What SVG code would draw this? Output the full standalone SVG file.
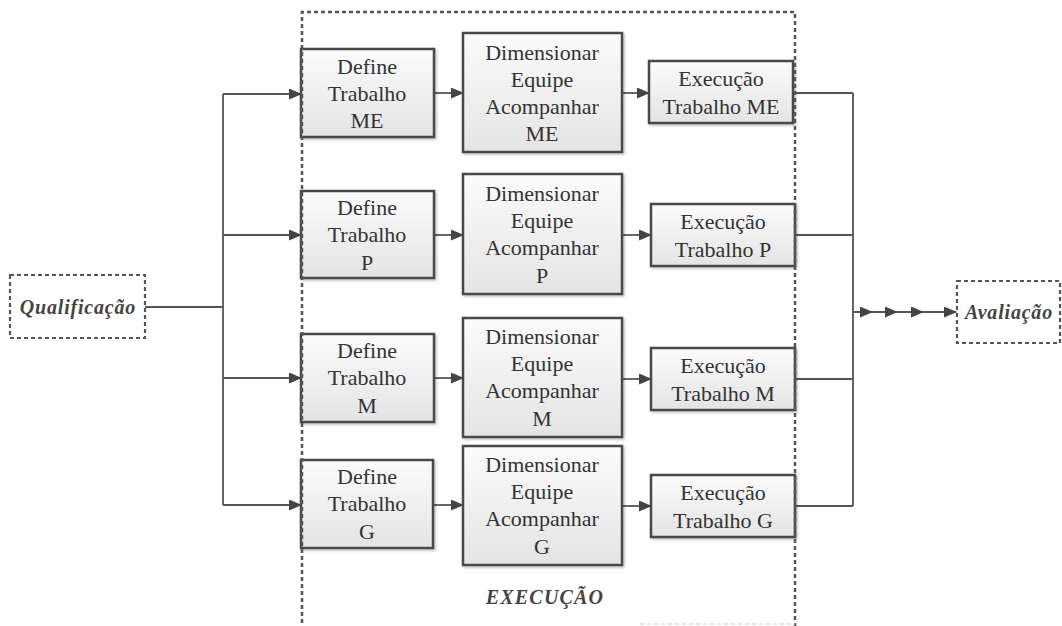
<svg xmlns="http://www.w3.org/2000/svg" width="1062" height="626" viewBox="0 0 1062 626">
<defs>
<linearGradient id="g" x1="0" y1="0" x2="0" y2="1">
<stop offset="0" stop-color="#fbfbfb"/>
<stop offset="1" stop-color="#e4e4e4"/>
</linearGradient>
<filter id="sh" x="-10%" y="-10%" width="130%" height="130%">
<feDropShadow dx="1.5" dy="1.5" stdDeviation="1" flood-color="#000" flood-opacity="0.25"/>
</filter>
<marker id="ah" markerWidth="13" markerHeight="11" viewBox="0 0 13 11" refX="12" refY="5.5" orient="auto" markerUnits="userSpaceOnUse">
<path d="M0,0 L13,5.5 L0,11 Z" fill="#444"/>
</marker>
</defs>
<style>
.box{fill:url(#g);stroke:#4a4a4a;stroke-width:2.5;filter:url(#sh)}
.t{font-family:"Liberation Serif","Times New Roman",serif;font-size:22px;fill:#333;text-anchor:middle}
.bi{font-family:"Liberation Serif","Times New Roman",serif;font-size:20px;font-weight:bold;font-style:italic;fill:#444;text-anchor:middle;letter-spacing:0.8px}
.c{fill:none;stroke:#555;stroke-width:1.8}
.ca{fill:none;stroke:#555;stroke-width:1.8;marker-end:url(#ah)}
.dash{fill:none;stroke:#555;stroke-width:2.5;stroke-dasharray:4 3}
</style>
<rect width="1062" height="626" fill="#fff"/>

<g id="connectors">
<line class="c" x1="145" y1="307" x2="223" y2="307"/>
<line class="c" x1="223" y1="94" x2="223" y2="505"/>
<line class="ca" x1="223" y1="94" x2="301" y2="94"/>
<line class="ca" x1="223" y1="235" x2="301" y2="235"/>
<line class="ca" x1="223" y1="378" x2="301" y2="378"/>
<line class="ca" x1="223" y1="505" x2="301" y2="505"/>
<line class="ca" x1="434" y1="93" x2="463" y2="93"/>
<line class="ca" x1="434" y1="235" x2="463" y2="235"/>
<line class="ca" x1="434" y1="378" x2="463" y2="378"/>
<line class="ca" x1="434" y1="505" x2="463" y2="505"/>
<line class="ca" x1="622" y1="93" x2="649" y2="93"/>
<line class="ca" x1="622" y1="235" x2="651" y2="235"/>
<line class="ca" x1="622" y1="379" x2="651" y2="379"/>
<line class="ca" x1="622" y1="506" x2="651" y2="506"/>
<line class="c" x1="795" y1="93" x2="853" y2="93"/>
<line class="c" x1="795" y1="235" x2="853" y2="235"/>
<line class="c" x1="795" y1="379" x2="853" y2="379"/>
<line class="c" x1="795" y1="506" x2="853" y2="506"/>
<line class="c" x1="853" y1="93" x2="853" y2="506"/>
<polyline class="c" points="853,312 872,312 897,312 923,312 956,312" marker-mid="url(#ah)" marker-end="url(#ah)"/>
</g>

<g id="qualificacao">
<rect x="10" y="275" width="135" height="63" fill="#fff" stroke="#555" stroke-width="2.2" stroke-dasharray="4 3"/>
<text class="bi" x="78" y="314">Qualificação</text>
</g>

<g id="avaliacao">
<rect x="957" y="281" width="103" height="62" fill="#fff" stroke="#555" stroke-width="2.2" stroke-dasharray="4 3"/>
<text class="bi" x="1009" y="319">Avaliação</text>
</g>

<g id="define-me">
<rect class="box" x="301" y="49" width="133" height="88"/>
<text class="t" x="367" y="74">Define</text>
<text class="t" x="367" y="101">Trabalho</text>
<text class="t" x="367" y="128">ME</text>
</g>
<g id="dim-me">
<rect class="box" x="463" y="33" width="159" height="119"/>
<text class="t" x="542" y="60">Dimensionar</text>
<text class="t" x="542" y="87">Equipe</text>
<text class="t" x="542" y="114">Acompanhar</text>
<text class="t" x="542" y="141">ME</text>
</g>
<g id="exec-me">
<rect class="box" x="649" y="61" width="144" height="62"/>
<text class="t" x="721" y="86">Execução</text>
<text class="t" x="721" y="114">Trabalho ME</text>
</g>

<g id="define-p">
<rect class="box" x="301" y="191" width="133" height="87"/>
<text class="t" x="367" y="215">Define</text>
<text class="t" x="367" y="242">Trabalho</text>
<text class="t" x="367" y="270">P</text>
</g>
<g id="dim-p">
<rect class="box" x="463" y="174" width="159" height="120"/>
<text class="t" x="542" y="201">Dimensionar</text>
<text class="t" x="542" y="228">Equipe</text>
<text class="t" x="542" y="255">Acompanhar</text>
<text class="t" x="542" y="283">P</text>
</g>
<g id="exec-p">
<rect class="box" x="651" y="204" width="144" height="62"/>
<text class="t" x="723" y="229">Execução</text>
<text class="t" x="723" y="257">Trabalho P</text>
</g>

<g id="define-m">
<rect class="box" x="301" y="334" width="133" height="88"/>
<text class="t" x="367" y="358">Define</text>
<text class="t" x="367" y="385">Trabalho</text>
<text class="t" x="367" y="413">M</text>
</g>
<g id="dim-m">
<rect class="box" x="463" y="318" width="159" height="119"/>
<text class="t" x="542" y="344">Dimensionar</text>
<text class="t" x="542" y="371">Equipe</text>
<text class="t" x="542" y="398">Acompanhar</text>
<text class="t" x="542" y="426">M</text>
</g>
<g id="exec-m">
<rect class="box" x="651" y="348" width="144" height="62"/>
<text class="t" x="723" y="373">Execução</text>
<text class="t" x="723" y="401">Trabalho M</text>
</g>

<g id="define-g">
<rect class="box" x="301" y="460" width="132" height="88"/>
<text class="t" x="367" y="484">Define</text>
<text class="t" x="367" y="511">Trabalho</text>
<text class="t" x="367" y="539">G</text>
</g>
<g id="dim-g">
<rect class="box" x="463" y="446" width="159" height="119"/>
<text class="t" x="542" y="472">Dimensionar</text>
<text class="t" x="542" y="499">Equipe</text>
<text class="t" x="542" y="526">Acompanhar</text>
<text class="t" x="542" y="554">G</text>
</g>
<g id="exec-g">
<rect class="box" x="651" y="475" width="144" height="62"/>
<text class="t" x="723" y="500">Execução</text>
<text class="t" x="723" y="528">Trabalho G</text>
</g>

<g id="execucao">
<path class="dash" d="M302,630 L302,12 L795,12 L795,630"/>
<line x1="640" y1="624" x2="795" y2="624" stroke="#ddd" stroke-width="1.5" stroke-dasharray="4 3"/>
<text class="bi" x="545" y="604" style="letter-spacing:1.2px">EXECUÇÃO</text>
</g>
</svg>
